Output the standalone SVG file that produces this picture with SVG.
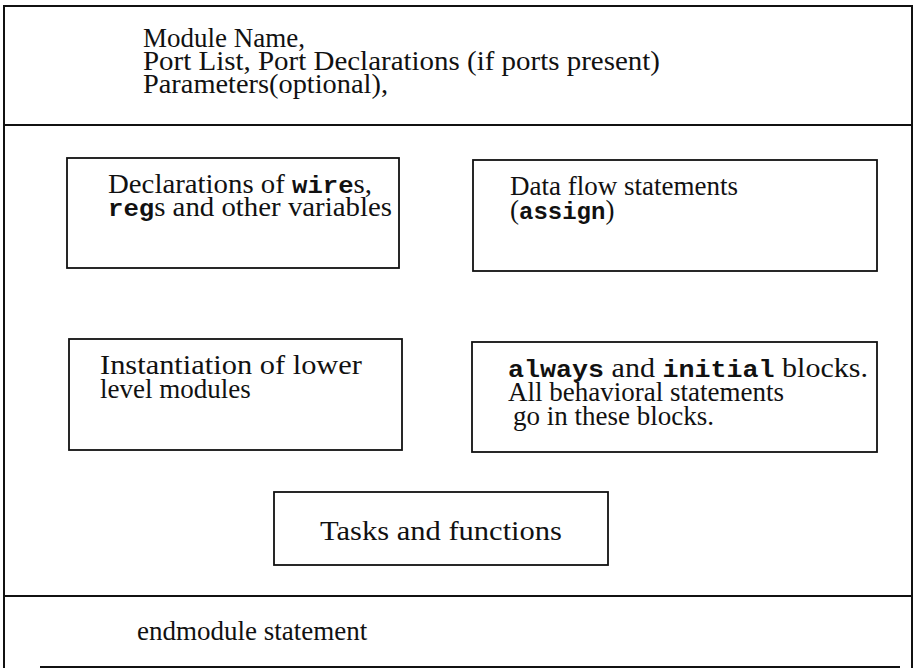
<svg xmlns="http://www.w3.org/2000/svg" width="916" height="671" viewBox="0 0 916 671">
<style>
.frame{fill:none;stroke:#111;stroke-width:2}
.box{fill:#fff;stroke:#111;stroke-width:1.8}
.t{font-family:"Liberation Serif","Times New Roman",serif;font-size:27px;fill:#111}
.m{font-family:"Liberation Mono","Courier New",monospace;font-weight:bold;font-size:24px}
</style>
<rect width="916" height="671" fill="#fff"/>
<g id="module-frame">
<line class="frame" x1="4" y1="6" x2="912" y2="6"/>
<line class="frame" x1="4" y1="5" x2="4" y2="668"/>
<line class="frame" x1="912" y1="5" x2="912" y2="668"/>
<line class="frame" x1="3" y1="125" x2="913" y2="125"/>
<line class="frame" x1="3" y1="596" x2="913" y2="596"/>
<line class="frame" x1="40" y1="667" x2="900" y2="667"/>
</g>
<g id="header">
<text class="t" x="143" y="47">Module Name,</text>
<text class="t" x="143" y="70" textLength="517" lengthAdjust="spacingAndGlyphs">Port List, Port Declarations (if ports present)</text>
<text class="t" x="143" y="93" textLength="245" lengthAdjust="spacingAndGlyphs">Parameters(optional),</text>
</g>
<g id="declarations">
<rect class="box" x="67" y="158" width="332" height="110"/>
<text class="t" x="108" y="193" textLength="264" lengthAdjust="spacingAndGlyphs">Declarations of <tspan class="m">wire</tspan>s,</text>
<text class="t" x="108" y="216" textLength="284" lengthAdjust="spacingAndGlyphs"><tspan class="m">reg</tspan>s and other variables</text>
</g>
<g id="dataflow">
<rect class="box" x="473" y="160" width="404" height="111"/>
<text class="t" x="510" y="195">Data flow statements</text>
<text class="t" x="510" y="219">(<tspan class="m">assign</tspan>)</text>
</g>
<g id="instantiation">
<rect class="box" x="69" y="339" width="333" height="111"/>
<text class="t" x="100" y="374" textLength="262" lengthAdjust="spacingAndGlyphs">Instantiation of lower</text>
<text class="t" x="100" y="398">level modules</text>
</g>
<g id="behavioral">
<rect class="box" x="472" y="342" width="405" height="110"/>
<text class="t" x="508" y="377" textLength="360" lengthAdjust="spacingAndGlyphs"><tspan class="m">always</tspan> and <tspan class="m">initial</tspan> blocks.</text>
<text class="t" x="508" y="401">All behavioral statements</text>
<text class="t" x="513" y="425">go in these blocks.</text>
</g>
<g id="tasks">
<rect class="box" x="274" y="492" width="334" height="73"/>
<text class="t" x="320" y="540" textLength="242" lengthAdjust="spacingAndGlyphs">Tasks and functions</text>
</g>
<g id="endmodule">
<text class="t" x="137" y="640">endmodule statement</text>
</g>
<g id="connectors"></g>
</svg>
